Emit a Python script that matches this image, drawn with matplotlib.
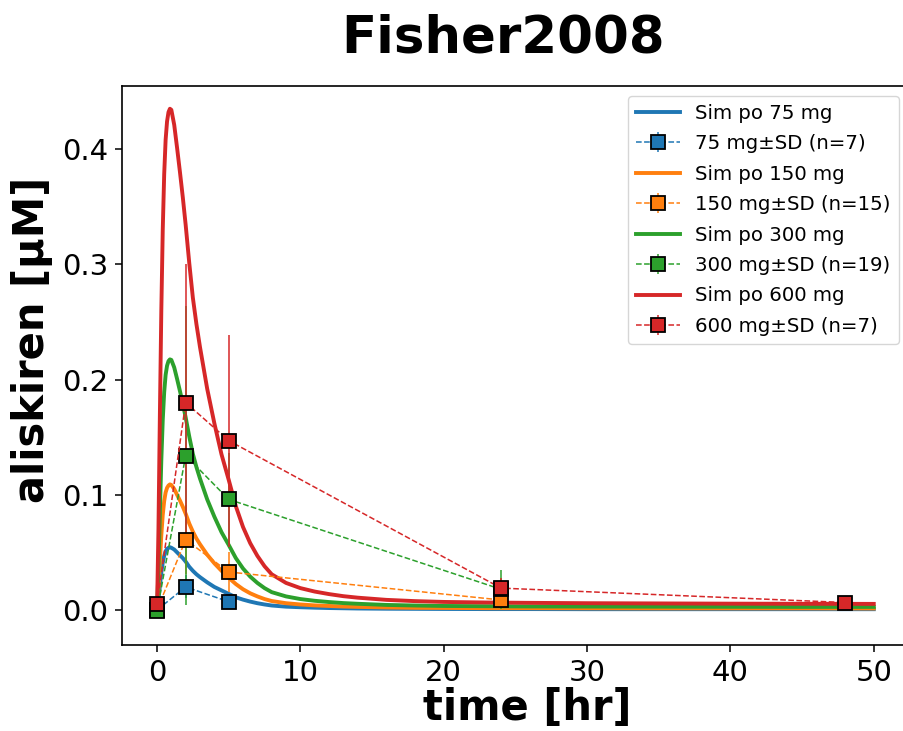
import numpy as np
import matplotlib
matplotlib.use('Agg')
import matplotlib.pyplot as plt

# simulated curves
t_sim = [0, 0.1, 0.2, 0.3, 0.4, 0.5, 0.6, 0.7, 0.8, 0.9, 1.0, 1.2, 1.4, 1.6, 1.8, 2.0,
         2.25, 2.5, 2.75, 3.0, 3.5, 4.0, 4.5, 5.0, 5.5, 6.0, 6.5, 7.0, 7.5, 8.0,
         9, 10, 11, 12, 13, 14, 16, 18, 20, 23, 26, 30, 35, 40, 45, 50]
sim_600 = [0, 0.07, 0.17, 0.26, 0.33, 0.378, 0.408, 0.424, 0.432, 0.435, 0.434, 0.421,
           0.401, 0.380, 0.358, 0.334, 0.301, 0.271, 0.248, 0.228, 0.192, 0.162, 0.135,
           0.113, 0.090, 0.072, 0.058, 0.047, 0.038, 0.031, 0.0235, 0.019, 0.016, 0.0138,
           0.012, 0.0107, 0.0088, 0.0077, 0.007, 0.0065, 0.0062, 0.0059, 0.0057, 0.0055,
           0.0054, 0.0053]
sim_300 = [0, 0.035, 0.085, 0.13, 0.165, 0.189, 0.204, 0.212, 0.216, 0.2175, 0.217, 0.2105,
           0.2005, 0.19, 0.179, 0.167, 0.1505, 0.1355, 0.124, 0.114, 0.096, 0.081, 0.0675,
           0.0565, 0.045, 0.036, 0.029, 0.0235, 0.019, 0.0155, 0.0118, 0.0095, 0.008, 0.0069,
           0.006, 0.0054, 0.0044, 0.0039, 0.0035, 0.0033, 0.0031, 0.003, 0.0029, 0.0028,
           0.0027, 0.0027]
sim_150 = [0, 0.0175, 0.0425, 0.065, 0.0825, 0.0945, 0.102, 0.106, 0.108, 0.109, 0.1085,
           0.105, 0.100, 0.095, 0.0895, 0.0835, 0.075, 0.068, 0.062, 0.057, 0.048, 0.0405,
           0.034, 0.028, 0.0225, 0.018, 0.0145, 0.0118, 0.0095, 0.0078, 0.0059, 0.0048,
           0.004, 0.0035, 0.003, 0.0027, 0.0022, 0.0019, 0.0018, 0.0016, 0.0016, 0.0015,
           0.0014, 0.0014, 0.0014, 0.0013]
sim_75 = [0, 0.009, 0.021, 0.0325, 0.041, 0.047, 0.051, 0.053, 0.054, 0.0545, 0.054, 0.0525,
          0.050, 0.0475, 0.045, 0.042, 0.0375, 0.034, 0.031, 0.0285, 0.024, 0.020, 0.017,
          0.014, 0.011, 0.009, 0.0073, 0.0059, 0.0048, 0.0039, 0.0029, 0.0024, 0.002, 0.0017,
          0.0015, 0.0013, 0.0011, 0.001, 0.0009, 0.0008, 0.0008, 0.0007, 0.0007, 0.0007,
          0.0007, 0.0007]

# observed data (mean, SD)
t_75 = [0, 2, 5]
y_75 = [0.0, 0.020, 0.0072]
sd_75 = [0.001, 0.01, 0.005]

t_150 = [0, 2, 5, 24]
y_150 = [0.0, 0.061, 0.033, 0.0087]
sd_150 = [0.001, 0.03, 0.017, 0.004]

t_300 = [0, 2, 5, 24]
y_300 = [-0.001, 0.134, 0.096, 0.018]
sd_300 = [0.005, 0.13, 0.04, 0.017]

t_600 = [0, 2, 5, 24, 48]
y_600 = [0.005, 0.180, 0.147, 0.019, 0.0065]
sd_600 = [0.002, 0.12, 0.092, 0.009, 0.002]

colors = ['#1f77b4', '#ff7f0e', '#2ca02c', '#d62728']
doses = [75, 150, 300, 600]
n_subj = [7, 15, 19, 7]
sims = [sim_75, sim_150, sim_300, sim_600]
obs = [(t_75, y_75, sd_75), (t_150, y_150, sd_150),
       (t_300, y_300, sd_300), (t_600, y_600, sd_600)]

fig = plt.figure(figsize=(9.04, 7.31), dpi=100)
# axes run past the right edge of the picture (right spine is cut off)
ax = fig.add_axes([0.135, 0.1176, 0.960, 0.7647])

handles = []
labels = []
for c, d, n, s, (t, y, sd) in zip(colors, doses, n_subj, sims, obs):
    l, = ax.plot(t_sim, s, color=c, lw=2.8)
    e = ax.errorbar(t, y, yerr=sd, fmt='s--', color=c, ecolor=c, lw=1.1, elinewidth=1.1,
                    markersize=10, markeredgecolor='k', markeredgewidth=1.3)
    handles += [l, e]
    labels += ['Sim po %d mg' % d, '%d mg±SD (n=%d)' % (d, n)]

ax.set_xlim(-2.44, 58.1)
ax.set_ylim(-0.0304, 0.4547)
ax.set_xticks([0, 10, 20, 30, 40, 50])
ax.set_yticks([0.0, 0.1, 0.2, 0.3, 0.4])
ax.tick_params(labelsize=21, length=5, width=1.1, pad=5)
for sp in ax.spines.values():
    sp.set_linewidth(1.2)
# legend right edge sits at about x = 900 px
ax.legend(handles, labels, loc='upper right', bbox_to_anchor=(0.9065, 1.0),
          fontsize=14.2, handlelength=2.2, labelspacing=0.58, borderaxespad=0.5)

fig.text(0.556, 0.9275, 'Fisher2008', fontsize=37, fontweight='bold',
         ha='center', va='baseline')
fig.text(0.583, 0.0315, 'time [hr]', fontsize=30, fontweight='bold',
         ha='center', va='center')
fig.text(0.0354, 0.535, 'aliskiren [µM]', fontsize=30, fontweight='bold',
         ha='center', va='center', rotation=90)

fig.savefig('out.png', dpi=100)
